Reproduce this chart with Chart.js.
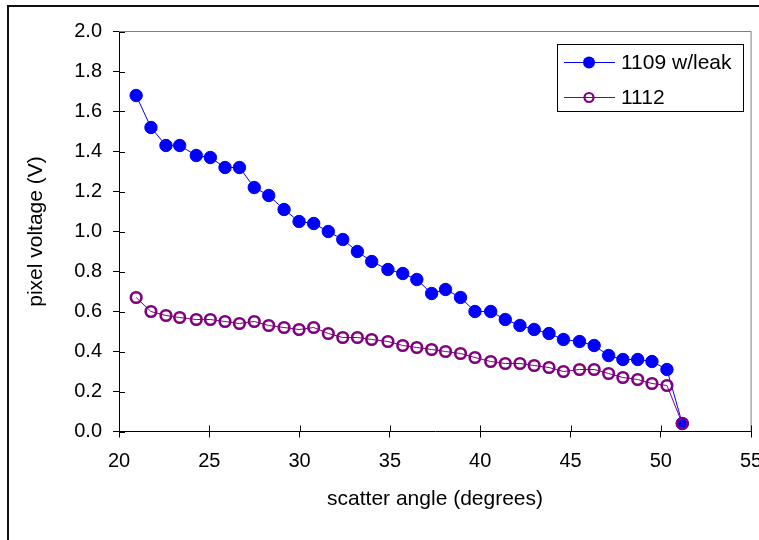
<!DOCTYPE html>
<html lang="en">

<head>
    <meta charset="UTF-8">
    <title>pixel voltage vs scatter angle</title>
    <script src="https://cdn.jsdelivr.net/npm/chart.js"></script>
    <style>
        body { margin: 0; background: #fff; }
        #wrap { width: 759px; height: 540px; }
    </style>
</head>

<body>
    <div id="wrap">
        <canvas id="myChart" width="759" height="540"></canvas>
    </div>

    <script>
        // scatter angle (degrees)
        const angles = [20.95, 21.77, 22.60, 23.36, 24.28, 25.06, 25.87, 26.67, 27.49, 28.29,
            29.14, 29.97, 30.78, 31.59, 32.39, 33.20, 33.99, 34.89, 35.71, 36.49,
            37.31, 38.08, 38.91, 39.71, 40.58, 41.39, 42.20, 42.99, 43.81, 44.61,
            45.50, 46.31, 47.11, 47.90, 48.72, 49.51, 50.34, 51.19]

        // pixel voltage (V)
        const leak1109 = [1.68, 1.52, 1.43, 1.43, 1.38, 1.37, 1.32, 1.32, 1.22, 1.18,
            1.11, 1.05, 1.04, 1.00, 0.96, 0.90, 0.85, 0.81, 0.79, 0.76,
            0.69, 0.71, 0.67, 0.60, 0.60, 0.56, 0.53, 0.51, 0.49, 0.46,
            0.45, 0.43, 0.38, 0.36, 0.36, 0.35, 0.31, 0.04]
        const v1112 = [0.67, 0.60, 0.58, 0.57, 0.56, 0.56, 0.55, 0.54, 0.55, 0.53,
            0.52, 0.51, 0.52, 0.49, 0.47, 0.47, 0.46, 0.45, 0.43, 0.42,
            0.41, 0.40, 0.39, 0.37, 0.35, 0.34, 0.34, 0.33, 0.32, 0.30,
            0.31, 0.31, 0.29, 0.27, 0.26, 0.24, 0.23, 0.04]

        const seriesNames = ['1109 w/leak', '1112']
        const xTicks = [20, 25, 30, 35, 40, 45, 50, 55]
        const yTicks = [0.0, 0.2, 0.4, 0.6, 0.8, 1.0, 1.2, 1.4, 1.6, 1.8, 2.0]

        const FONT = "'Liberation Sans', Arial, sans-serif"
        Chart.defaults.font.family = FONT
        Chart.defaults.color = '#000'

        const pts = (ys) => angles.map((x, i) => ({ x: x, y: ys[i] }))

        // outer frame, plot box and the tick marks that reach into the plot
        const frame = {
            id: 'frame',
            beforeDraw(chart) {
                const c = chart.ctx
                c.save()
                c.fillStyle = '#fff'
                c.fillRect(0, 0, chart.width, chart.height)
                c.strokeStyle = '#111'
                c.lineWidth = 2
                c.strokeRect(8, 6, 900, 700)
                c.restore()
            },
            beforeDatasetsDraw(chart) {
                const c = chart.ctx
                const a = chart.chartArea
                const sx = chart.scales.x, sy = chart.scales.y
                c.save()
                c.strokeStyle = '#808080'
                c.lineWidth = 1
                c.beginPath()
                c.moveTo(a.left, a.top)
                c.lineTo(a.right, a.top)
                c.lineTo(a.right, a.bottom)
                c.stroke()
                c.strokeStyle = '#000'
                c.beginPath()
                xTicks.forEach(v => {
                    const px = Math.round(sx.getPixelForValue(v)) + 0.5
                    c.moveTo(px, a.bottom)
                    c.lineTo(px, a.bottom - 6)
                })
                yTicks.forEach(v => {
                    const py = Math.round(sy.getPixelForValue(v)) + 0.5
                    c.moveTo(a.left, py)
                    c.lineTo(a.left + 6, py)
                })
                c.stroke()
                c.restore()
            },
            afterDraw(chart) {
                // legend box, upper right
                const c = chart.ctx
                const ds = chart.data.datasets
                c.save()
                c.fillStyle = '#fff'
                c.fillRect(557.5, 44.5, 186, 67)
                c.strokeStyle = '#000'
                c.lineWidth = 1
                c.strokeRect(557.5, 44.5, 186, 67)
                c.font = '21px ' + FONT
                c.textBaseline = 'middle'
                const rows = [62, 97]
                ds.forEach((d, i) => {
                    const y = rows[i] + 0.5
                    c.strokeStyle = d.borderColor
                    c.lineWidth = 1
                    c.beginPath()
                    c.moveTo(564, y)
                    c.lineTo(615, y)
                    c.stroke()
                    c.beginPath()
                    c.arc(589, y, i === 0 ? 6 : 4.5, 0, Math.PI * 2)
                    if (i === 0) {
                        c.fillStyle = d.pointBackgroundColor
                        c.fill()
                    } else {
                        c.lineWidth = 2.2
                        c.strokeStyle = d.pointBorderColor
                        c.stroke()
                    }
                    c.fillStyle = '#000'
                    c.fillText(d.label, 621, y + 1)
                })
                c.restore()
            }
        }

        const ctx = document.getElementById('myChart')
        const myChart = new Chart(ctx, {
            type: 'scatter',
            data: {
                datasets: [{
                    label: seriesNames[0],
                    data: pts(leak1109),
                    showLine: true,
                    borderColor: '#0000ff',
                    borderWidth: 1,
                    pointRadius: 6.2,
                    pointBorderWidth: 1,
                    pointBackgroundColor: '#0000ff',
                    pointBorderColor: '#0000ff',
                    order: 1
                }, {
                    label: seriesNames[1],
                    data: pts(v1112),
                    showLine: true,
                    borderColor: '#800080',
                    borderWidth: 1,
                    pointRadius: 5.3,
                    pointBorderWidth: 2.6,
                    pointBackgroundColor: 'rgba(0,0,0,0)',
                    pointBorderColor: '#800080',
                    order: 0
                }]
            },
            options: {
                responsive: false,
                animation: false,
                events: [],
                layout: { padding: { top: 31.5, right: 6, bottom: 0, left: 0 } },
                plugins: { legend: { display: false }, tooltip: { enabled: false } },
                scales: {
                    x: {
                        type: 'linear',
                        min: 20,
                        max: 55,
                        afterBuildTicks: s => { s.ticks = xTicks.map(v => ({ value: v })) },
                        afterFit: s => { s.height = 108.5; s.paddingLeft = 0; s.paddingRight = 0 },
                        grid: { drawOnChartArea: false, tickLength: 6, color: '#000' },
                        border: { color: '#000', width: 1 },
                        ticks: { font: { size: 20 }, padding: 12, maxRotation: 0, autoSkip: false },
                        title: {
                            display: true,
                            text: 'scatter angle (degrees)',
                            font: { size: 21 },
                            padding: { top: 0, bottom: 28 }
                        }
                    },
                    y: {
                        type: 'linear',
                        min: 0,
                        max: 2,
                        afterBuildTicks: s => { s.ticks = yTicks.map(v => ({ value: v })) },
                        afterFit: s => { s.width = 119; s.paddingTop = 0; s.paddingBottom = 0 },
                        grid: { drawOnChartArea: false, tickLength: 6, color: '#000' },
                        border: { color: '#000', width: 1 },
                        ticks: {
                            font: { size: 20 },
                            padding: 11,
                            autoSkip: false,
                            callback: v => v.toFixed(1)
                        },
                        title: {
                            display: true,
                            text: 'pixel voltage (V)',
                            font: { size: 21 },
                            padding: { top: 24, bottom: 0 }
                        }
                    }
                }
            },
            plugins: [frame]
        })
    </script>
</body>

</html>
